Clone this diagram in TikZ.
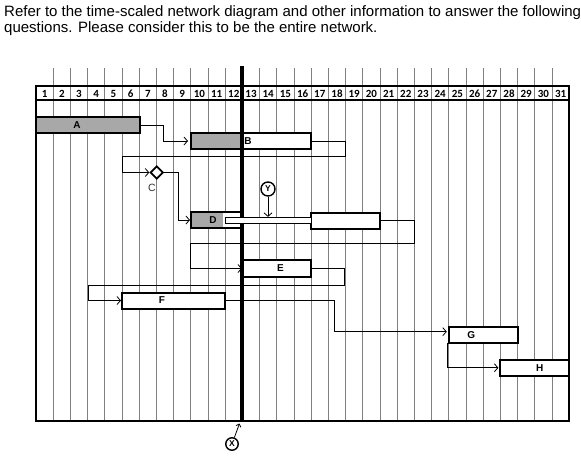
\documentclass[tikz,border=0pt]{standalone}
\usepackage{fontspec}
\setmainfont{Liberation Sans}
\newfontfamily\hdrfont{Carlito}
\usetikzlibrary{arrows.meta,shapes.geometric}
\definecolor{progfill}{gray}{0.66}
\definecolor{gridgray}{gray}{0.5}
\begin{document}
\begin{tikzpicture}[x=1pt,y=-1pt,
  gridline/.style={draw=gridgray,line width=0.7pt},
  framebox/.style={line width=1.8pt},
  bar/.style={draw,line width=2pt,fill=white,rectangle,inner sep=0pt,outer sep=0pt,anchor=north west,minimum height=16pt},
  progress/.style={path picture={\fill[progfill] (path picture bounding box.north west) rectangle ([xshift=#1]path picture bounding box.south west);}},
  barlbl/.style={font=\bfseries\fontsize{10}{10}\selectfont,inner sep=0pt},
  hdr/.style={font=\hdrfont\bfseries\fontsize{11}{11}\selectfont,inner sep=0pt},
  conn/.style={line width=0.8pt,-{Straight Barb[length=3.5pt,width=8pt]}},
  title/.style={font=\fontsize{15}{16}\selectfont,inner sep=0pt,anchor=base west},
  marker/.style={circle,draw,line width=1.4pt,inner sep=0pt,font=\bfseries\fontsize{8.5}{8.5}\selectfont}
]
\useasboundingbox[fill=white] (0,0) rectangle (581,458);

% title
\node[title] (t1) at (4,16) {Refer to the time-scaled network diagram and other information to answer the following};
\node[title] (t2) at (4,32.5) {questions. Please consider this to be the entire network.};

% grid
\foreach \i in {1,...,30} \draw[gridline] ({36+17.2*\i},68) -- ({36+17.2*\i},421);
\draw[framebox] (36,86) rectangle (569.2,421);
\draw[framebox] (36,100) -- (569.2,100);
\foreach \i in {1,...,31} \node[hdr] (h\i) at ({36+17.2*(\i-0.5)},93.5) {\i};

% bars
\node[bar,progress=104pt,minimum width=104pt,label={[barlbl,xshift=-11pt]center:A}] (A) at (36,117) {};
\node[bar,progress=51pt,minimum width=120pt,label={[barlbl,xshift=-3pt]center:B}] (B) at (191,133) {};
\node[bar,progress=32pt,minimum width=51pt,label={[barlbl,xshift=-3.5pt]center:D}] (D) at (191,212) {};
\node[bar,minimum width=69pt] (D2) at (311,212.7) {};
\node[bar,minimum width=69pt,minimum height=17pt,label={[barlbl,xshift=4pt]center:E}] (E) at (242,260) {};
\node[bar,minimum width=103pt,label={[barlbl,xshift=-11.5pt]center:F}] (F) at (122,292.5) {};
\node[bar,minimum width=68.8pt,label={[barlbl,xshift=-12pt]center:G}] (G) at (448.8,326.7) {};
\node[bar,minimum width=68.8pt,minimum height=16.5pt,label={[barlbl,xshift=5pt]center:H}] (H) at (500.4,359.5) {};

% milestone C
\node[diamond,draw,line width=1.8pt,inner sep=0pt,minimum size=13pt,fill=white] (C) at (156.7,172.5) {};
\node[font=\fontsize{10.5}{10.5}\selectfont,inner sep=0pt,text=black!80] (Clab) at (152,188) {C};

% connectors
\draw[conn,shorten >=3pt] (A.east) -- ++(23,0) |- (B.west);
\draw[conn] (B.east) -| (345,156) -- (122,156) |- (C.west);
\draw[conn,shorten >=1pt] (C.east) -- ++(14,0) |- (D.west);
\draw[conn] (D2.east) -| (414.4,243) -- (190,243) |- (E.west);
\draw[conn,shorten >=1pt] (E.east) -| (344,285) -- (88,285) |- (F.west);
\draw[conn,shorten >=2pt] (F.east) -| (334,331.7) -- ([yshift=3pt]G.west);
\draw[conn,shorten >=2pt] ([xshift=-1.5pt]G.south west) |- (H.west);

% status line X
\coordinate (Xtop) at (242,66);
\coordinate (Xbot) at (242,421);
\draw[line width=3.5pt] (Xtop) -- (Xbot);
\node[marker,minimum size=12.5pt] (X) at (232,444) {X};
\coordinate (Xtip) at (239.5,423.5);
\draw[line width=0.8pt,-{Straight Barb[length=2.5pt,width=5pt]}] (X) -- (Xtip);

% remaining duration pipe of D
\node[draw,line width=0.8pt,fill=white,inner sep=0pt,minimum width=86pt,minimum height=6.5pt,anchor=west] (pipe) at (225,220.5) {};

% marker Y
\node[marker,minimum size=14pt] (Y) at (268,189) {Y};
\draw[conn] (Y.south) -- (Y.south |- pipe.north);
\end{tikzpicture}
\end{document}
